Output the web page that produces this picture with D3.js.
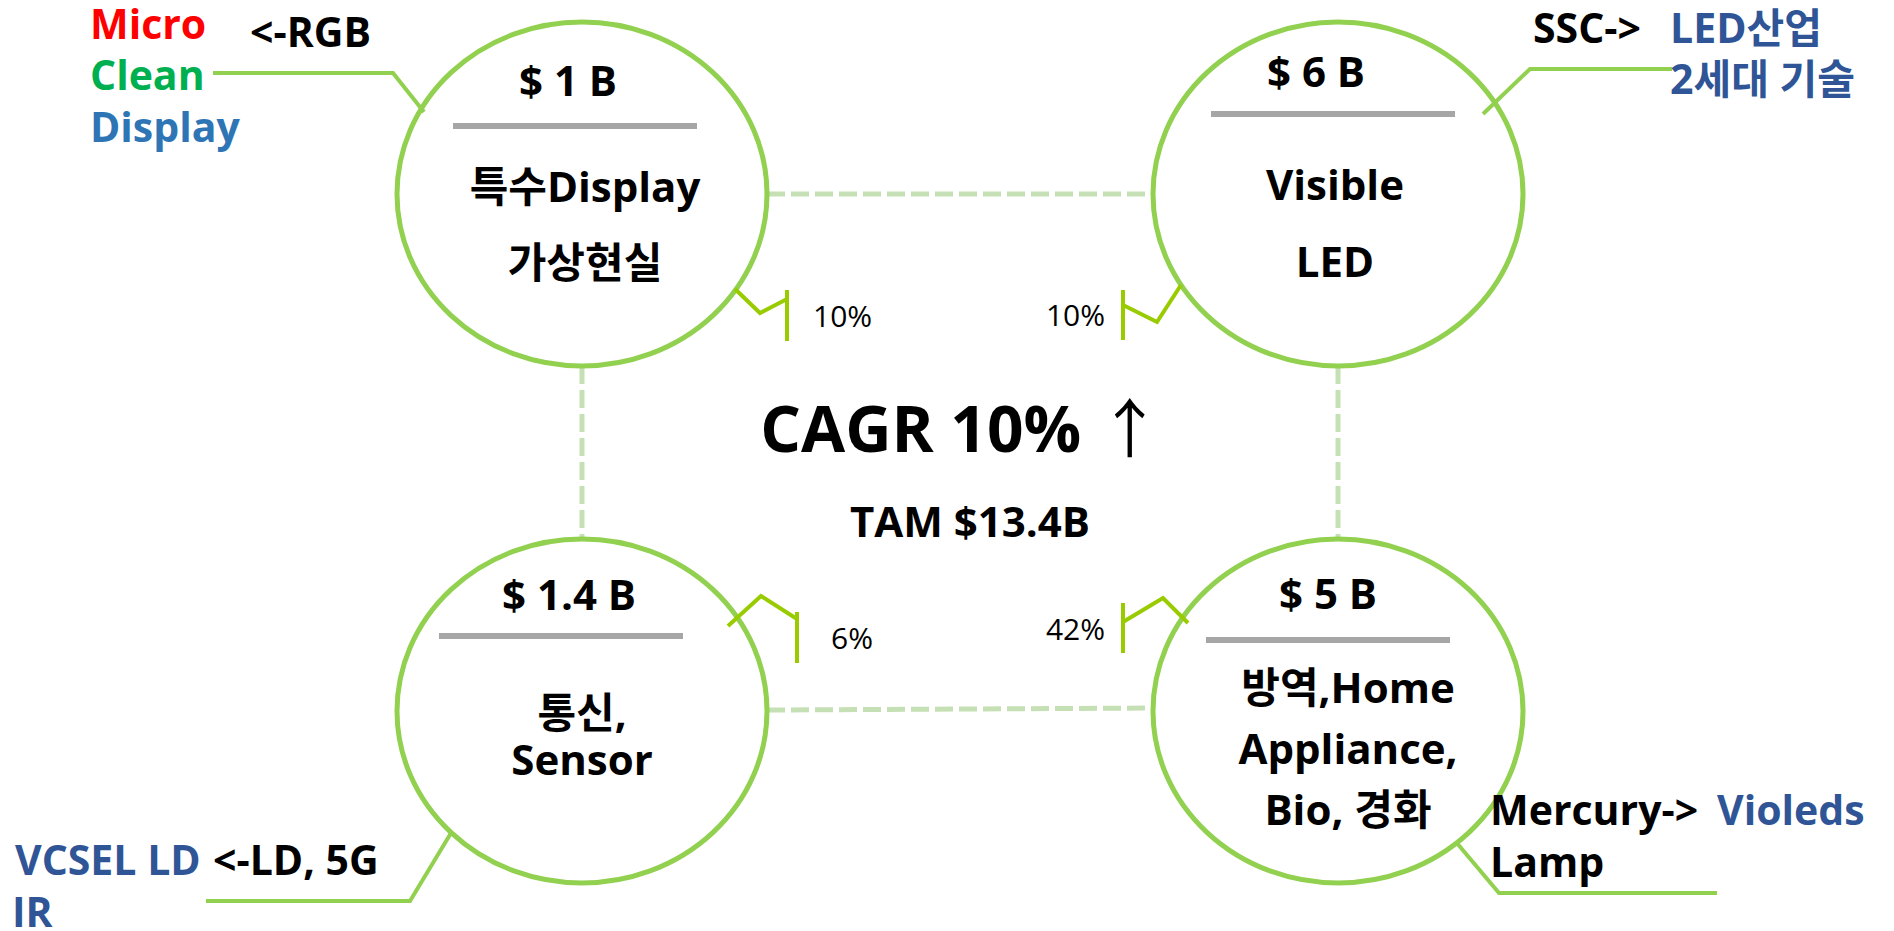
<!DOCTYPE html>
<html>
<head>
<meta charset="utf-8">
<script src="https://cdn.jsdelivr.net/npm/d3@7"></script>
<style>
  html, body { margin: 0; padding: 0; background: #fff; }
  svg { display: block; }
  text { font-family: "Open Sans", "Noto Sans CJK KR", sans-serif; }
</style>
</head>
<body>
<svg id="chart" width="1894" height="931"></svg>
<script>
// market segments, in order: top-left, top-right, bottom-left, bottom-right
const segments = ["TL", "TR", "BL", "BR"];
const marketSizes = ["$ 1 B", "$ 6 B", "$ 1.4 B", "$ 5 B"];
const applications = [
    ["특수Display", "가상현실"],
    ["Visible", "LED"],
    ["통신,", "Sensor"],
    ["방역,Home", "Appliance,", "Bio, 경화"]
];
const growthRates = ["10%", "10%", "6%", "42%"];

const cagrText = "CAGR 10%";
const tamText = "TAM $13.4B";

// technology notes next to each segment
const notesTL = ["Micro", "Clean", "Display", "<-RGB"];
const notesTR = ["SSC->", "LED산업", "2세대 기술"];
const notesBL = ["VCSEL LD", "<-LD, 5G", "IR"];
const notesBR = ["Mercury->", "Violeds", "Lamp"];

const GREEN = "#92d050";
const LIME = "#99cc00";
const PALE = "#c5e0b4";
const GRAY = "#a6a6a6";
const NAVY = "#2f5597";

const svg = d3.select("#chart");

const xScale = d3.scalePoint().domain(["left", "right"]).range([582, 1338]);
const yScale = d3.scalePoint().domain(["top", "bottom"]).range([194, 711]);
const rx = 185, ry = 172;

// per-segment layout (offsets from circle centre)
const layout = {
    TL: { col: "left", row: "top", title: [-14, -98], rule: [-7, -68], label: [3, 8, 76],
          bracket: [[153, 95], [178, 119], [205, 105]], bar: [205, 96, 147], rate: [231, 133, "start"],
          leader: [[-158, -82], [-189, -121], [-369, -121]] },
    TR: { col: "right", row: "top", title: [-22, -107], rule: [-5, -80], label: [-3, 6, 77],
          bracket: [[-157, 91], [-181, 128], [-215, 111]], bar: [-215, 96, 146], rate: [-233, 132, "end"],
          leader: [[145, -80], [192, -125], [334, -125]] },
    BL: { col: "left", row: "bottom", title: [-13, -101], rule: [-21, -75], label: [0, 17, 47],
          bracket: [[146, -85], [179, -115], [215, -92]], bar: [215, -99, -48], rate: [249, -62, "start"],
          leader: [[-131, 122], [-172, 190], [-376, 190]] },
    BR: { col: "right", row: "bottom", title: [-10, -102], rule: [-10, -71], label: [10, -8, 61],
          bracket: [[-150, -88], [-175, -113], [-215, -89]], bar: [-215, -108, -58], rate: [-233, -71, "end"],
          leader: [[118, 131], [161, 182], [379, 182]] }
};

const nodes = segments.map((s, i) => ({
    key: s,
    size: marketSizes[i],
    apps: applications[i],
    rate: growthRates[i],
    cx: xScale(layout[s].col),
    cy: yScale(layout[s].row),
    L: layout[s]
}));
const byKey = Object.fromEntries(nodes.map(n => [n.key, n]));

// dashed connectors between circles
const links = [
    [byKey.TL.cx + rx, byKey.TL.cy, byKey.TR.cx - rx, byKey.TR.cy],
    [byKey.BL.cx + rx, byKey.BL.cy - 1, byKey.BR.cx - rx, byKey.BR.cy - 3],
    [byKey.TL.cx, byKey.TL.cy + ry, byKey.BL.cx, byKey.BL.cy - ry],
    [byKey.TR.cx, byKey.TR.cy + ry, byKey.BR.cx, byKey.BR.cy - ry]
];
svg.selectAll("line.link")
    .data(links)
    .enter()
    .append("line")
    .attr("class", "link")
    .attr("x1", d => d[0]).attr("y1", d => d[1])
    .attr("x2", d => d[2]).attr("y2", d => d[3])
    .attr("stroke", PALE)
    .attr("stroke-width", 5)
    .attr("stroke-dasharray", "18 6");

const line = d3.line();

const groups = svg.selectAll("g.segment")
    .data(nodes)
    .enter()
    .append("g")
    .attr("class", "segment")
    .attr("transform", d => `translate(${d.cx},${d.cy})`);

// leader lines to the technology notes
groups.append("path")
    .attr("d", d => line(d.L.leader))
    .attr("fill", "none")
    .attr("stroke", GREEN)
    .attr("stroke-width", 4);

groups.append("ellipse")
    .attr("rx", rx)
    .attr("ry", ry)
    .attr("fill", "none")
    .attr("stroke", GREEN)
    .attr("stroke-width", 5);

// growth brackets
groups.append("path")
    .attr("d", d => line(d.L.bracket))
    .attr("fill", "none")
    .attr("stroke", LIME)
    .attr("stroke-width", 4);

groups.append("line")
    .attr("x1", d => d.L.bar[0]).attr("x2", d => d.L.bar[0])
    .attr("y1", d => d.L.bar[1]).attr("y2", d => d.L.bar[2])
    .attr("stroke", LIME)
    .attr("stroke-width", 4);

groups.append("text")
    .attr("x", d => d.L.rate[0])
    .attr("y", d => d.L.rate[1])
    .attr("text-anchor", d => d.L.rate[2])
    .attr("font-size", "30px")
    .attr("fill", "#000")
    .text(d => d.rate);

// market size + rule
groups.append("text")
    .attr("x", d => d.L.title[0])
    .attr("y", d => d.L.title[1])
    .attr("text-anchor", "middle")
    .attr("font-size", "42px")
    .attr("font-weight", "bold")
    .text(d => d.size);

groups.append("line")
    .attr("x1", d => d.L.rule[0] - 122).attr("x2", d => d.L.rule[0] + 122)
    .attr("y1", d => d.L.rule[1]).attr("y2", d => d.L.rule[1])
    .attr("stroke", GRAY)
    .attr("stroke-width", 6);

// application labels
groups.each(function(d) {
    d3.select(this).selectAll("text.app")
        .data(d.apps)
        .enter()
        .append("text")
        .attr("class", "app")
        .attr("x", d.L.label[0])
        .attr("y", (t, i) => d.L.label[1] + i * d.L.label[2])
        .attr("text-anchor", "middle")
        .attr("font-size", "42px")
        .attr("font-weight", "bold")
        .text(t => t);
});

// centre summary
const centre = svg.append("text")
    .attr("x", 961)
    .attr("y", 452)
    .attr("text-anchor", "middle")
    .attr("font-size", "64px")
    .attr("font-weight", "bold");
centre.append("tspan").text(cagrText + " ");
centre.append("tspan")
    .attr("font-weight", "normal")
    .attr("font-family", "'Noto Sans CJK KR', sans-serif")
    .text("↑");

svg.append("text")
    .attr("x", 970)
    .attr("y", 537)
    .attr("text-anchor", "middle")
    .attr("font-size", "42px")
    .attr("font-weight", "bold")
    .text(tamText);

// technology notes
function note(txt, x, y, color) {
    svg.append("text")
        .attr("x", x)
        .attr("y", y)
        .attr("font-size", "41px")
        .attr("font-weight", "bold")
        .attr("fill", color)
        .text(txt);
}
note(notesTL[0], 90, 39, "#ff0000");
note(notesTL[1], 90, 90, "#00b050");
note(notesTL[2], 90, 142, "#2e75b6");
note(notesTL[3], 250, 47, "#000");

note(notesTR[0], 1533, 43, "#000");
note(notesTR[1], 1670, 43, NAVY);
note(notesTR[2], 1670, 94, NAVY);

note(notesBL[0], 15, 875, NAVY);
note(notesBL[1], 213, 875, "#000");
note(notesBL[2], 12, 927, NAVY);

note(notesBR[0], 1490, 825, "#000");
note(notesBR[1], 1717, 825, NAVY);
note(notesBR[2], 1490, 877, "#000");
</script>
</body>
</html>
